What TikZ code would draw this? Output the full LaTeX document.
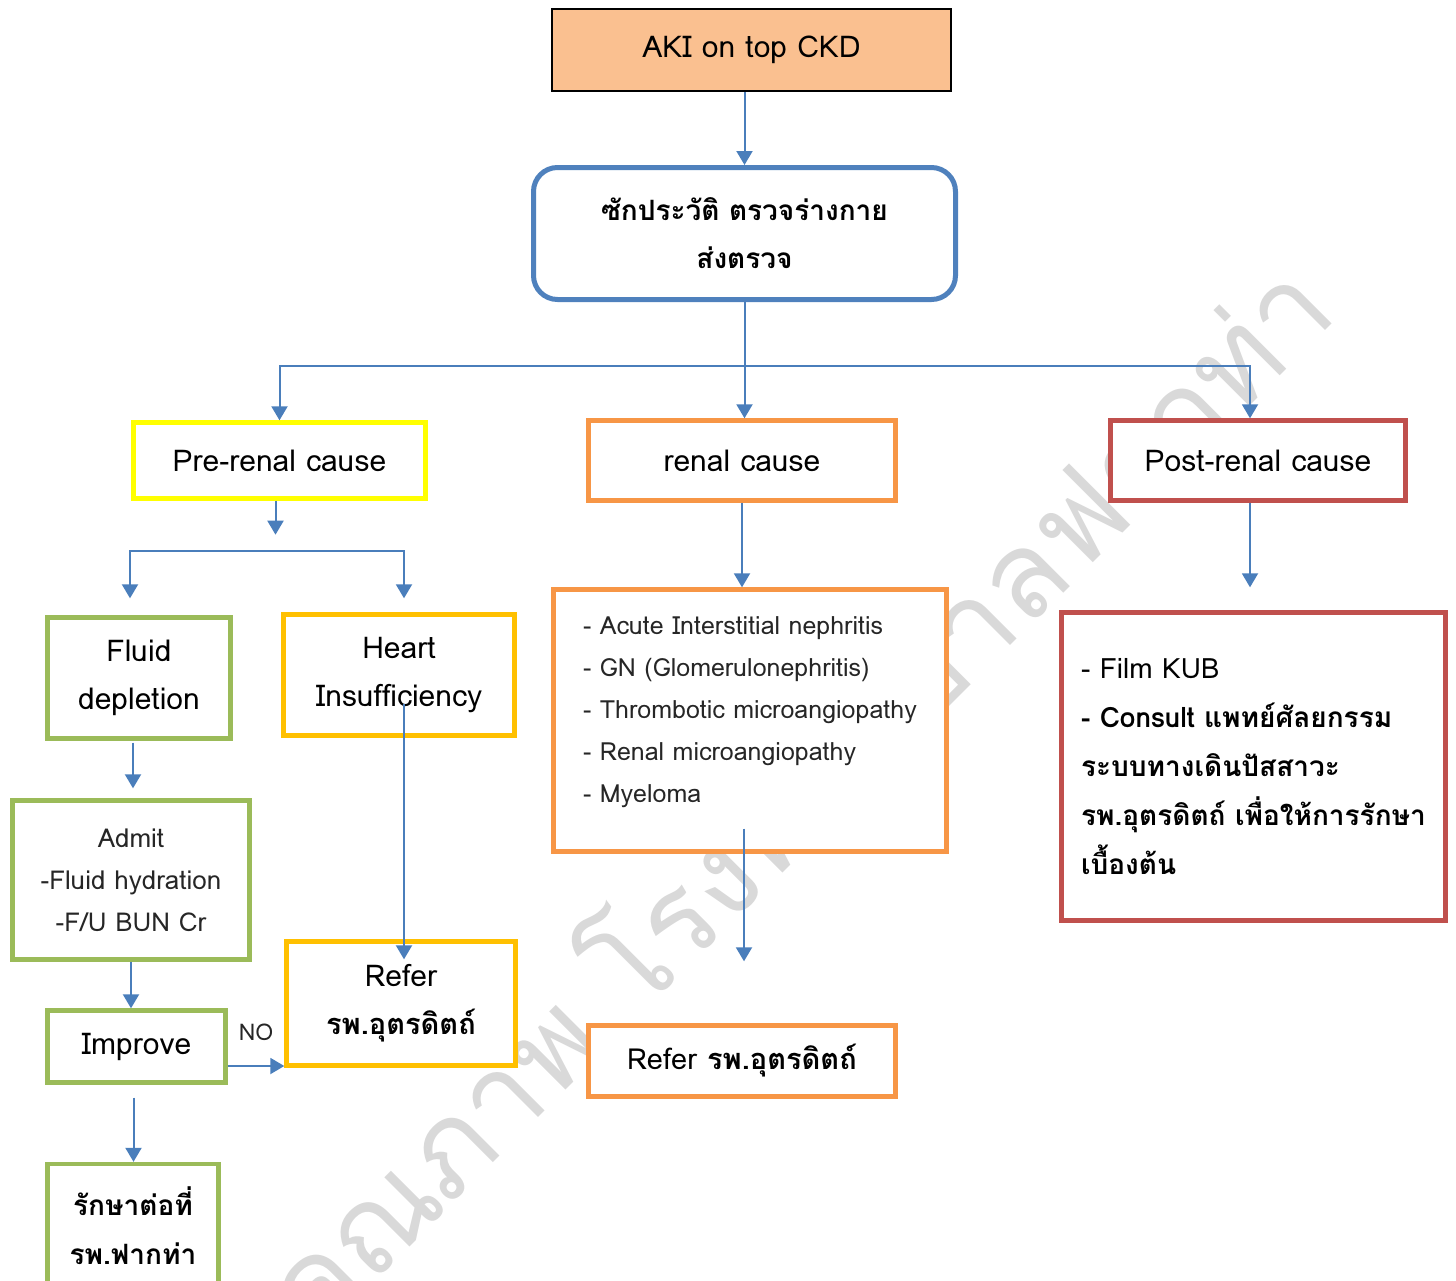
\documentclass[tikz,border=0pt]{standalone}
\usepackage{fontspec}
\setmainfont[Script=Thai]{Loma}
\usetikzlibrary{arrows.meta}
\usetikzlibrary{calc}

\definecolor{akifill}{HTML}{FAC090}
\definecolor{flowblue}{HTML}{4A7EBB}
\definecolor{histblue}{HTML}{4F81BD}
\definecolor{preyellow}{HTML}{FFFF00}
\definecolor{heartgold}{HTML}{FFC000}
\definecolor{renalorange}{HTML}{F79646}
\definecolor{postred}{HTML}{C0504D}
\definecolor{fluidgreen}{HTML}{9BBB59}

\tikzset{
    box/.style={
        rectangle, draw, line width=2.2pt, fill=white,
        align=center, inner sep=0pt, text=black,
        font=\fontsize{15}{24}\selectfont,
    },
    flow/.style={
        draw=flowblue, line width=1pt,
        -{Triangle[width=8pt,length=7pt]},
    },
}

\begin{document}
\begin{tikzpicture}[x=0.5pt, y=-0.5pt]
    \useasboundingbox (0,0) rectangle (1456,1280);

    \node (mark) at(800,802) [
        rotate=45, text=black!15,
        font=\fontsize{60}{60}\selectfont,
    ] {คุณภาพ โรงพยาบาลฟากท่า};

    \node (aki) at(751.5,50) [
        box, draw=black, line width=1pt,
        minimum width=199.5pt, minimum height=41pt,
        fill=akifill,
    ] {AKI on top CKD};

    \node (hist) at(744.5,233.5) [
        box, draw=histblue, line width=2.5pt, rounded corners=12pt,
        minimum width=211pt, minimum height=66pt,
        font=\fontsize{14}{24}\selectfont,
    ] {\bfseries ซักประวัติ ตรวจร่างกาย\\\bfseries ส่งตรวจ};

    \node (pre) at(279.5,460.5) [
        box, draw=preyellow,
        minimum width=146pt, minimum height=38pt,
    ] {Pre-renal cause};

    \node (renal) at(742,460.5) [
        box, draw=renalorange,
        minimum width=153.5pt, minimum height=40pt,
    ] {renal cause};

    \node (post) at(1258,460.5) [
        box, draw=postred,
        minimum width=147.5pt, minimum height=40pt,
    ] {Post-renal cause};

    \node (fluid) at(139,678) [
        box, draw=fluidgreen,
        minimum width=91.5pt, minimum height=60.5pt,
    ] {Fluid\\depletion};

    \node (heart) at(399,675) [
        box, draw=heartgold,
        minimum width=115.5pt, minimum height=60.5pt,
    ] {Heart\\Insufficiency};

    \node (admit) at(131,880) [
        box, draw=fluidgreen,
        minimum width=118.5pt, minimum height=79.5pt,
        font=\fontsize{13}{21}\selectfont, text=black!85,
    ] {Admit\\-Fluid hydration\\-F/U BUN Cr};

    \node (improve) at(136.5,1046.5) [
        box, draw=fluidgreen,
        minimum width=89pt, minimum height=36pt,
    ] {Improve};

    \node (refer1) at(401,1003.5) [
        box, draw=heartgold,
        minimum width=114.5pt, minimum height=62pt,
    ] {Refer\\\fontsize{14.5}{24}\selectfont\bfseries รพ.อุตรดิตถ์};

    \node (keep) at(133,1226) [
        box, draw=fluidgreen,
        minimum width=85.5pt, minimum height=62pt,
        font=\fontsize{14}{24.5}\selectfont,
    ] {\bfseries รักษาต่อที่\\\bfseries รพ.ฟากท่า};

    \node (list) at(750,720.5) [
        box, draw=renalorange, align=left,
        minimum width=196.5pt, minimum height=131pt,
        font=\fontsize{12.5}{21}\selectfont, text=black!85,
    ] {- Acute Interstitial nephritis\\- GN (Glomerulonephritis)\\- Thrombotic microangiopathy\\- Renal microangiopathy\\- Myeloma\\[-10pt]\mbox{}};

    \node (refer2) at(742,1061) [
        box, draw=renalorange,
        minimum width=153.5pt, minimum height=35.5pt,
        font=\fontsize{14.5}{24}\selectfont,
    ] {Refer \textbf{รพ.อุตรดิตถ์}};

    \node (postbox) at(1253.5,766.5) [
        box, draw=postred, align=left,
        minimum width=192pt, minimum height=154pt,
        font=\fontsize{14}{24.5}\selectfont,
    ] {- Film KUB\\\bfseries - Consult แพทย์ศัลยกรรม\\\bfseries ระบบทางเดินปัสสาวะ\\\bfseries รพ.อุตรดิตถ์ เพื่อให้การรักษา\\\bfseries เบื้องต้น};

    \coordinate (split) at(744.5,366);
    \coordinate (fork) at(275,551);

    \draw[flow] (aki.south -| hist.north) -- (hist.north);
    \draw[flow] (hist.south) -- (hist.south |- renal.north);
    \draw[flow] (split) -| (pre.north);
    \draw[flow] (split) -| ($(post.north)+(-8,0)$);
    \draw[flow] ($(pre.south)+(-4,0)$) -- ++(0,34);
    \draw[flow] (fork) -| ($(fluid.north)+(-9,-17)$);
    \draw[flow] (fork) -| ($(heart.north)+(5,-14)$);
    \draw[flow] ($(fluid.south)+(-6,2)$) -- ($(fluid.south |- admit.north)+(-6,-10)$);
    \draw[flow] (admit.south) -- (admit.south |- improve.north);
    \draw[flow] ($(improve.east)+(0,19.5)$) -- ($(improve.east -| refer1.west)+(0,19.5)$)
        node[midway, above=9pt, font=\fontsize{11.5}{12}\selectfont, text=black!85] (no) {NO};
    \draw[flow] ($(heart.south)+(5,-34)$) -- ($(heart.south |- refer1.north)+(5,20)$);
    \draw[flow] ($(improve.south)+(-3,13)$) -- ($(improve.south |- keep.north)+(-3,0)$);
    \draw[flow] (renal.south) -- (renal.south |- list.north);
    \draw[flow] ($(list.south -| refer2.north)+(2,-25)$) -- ($(refer2.north)+(2,-62)$);
    \draw[flow] ($(post.south)+(-8,0)$) -- ($(post.south |- postbox.north)+(-8,-23)$);
\end{tikzpicture}
\end{document}
